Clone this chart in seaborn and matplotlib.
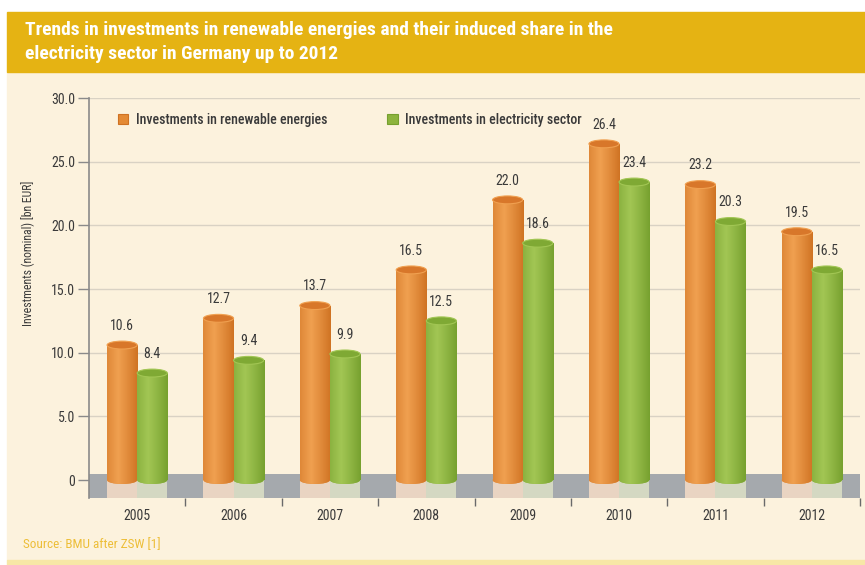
import numpy as np
import matplotlib
matplotlib.use("Agg")
import matplotlib.pyplot as plt
from matplotlib.patches import Rectangle, Ellipse, FancyBboxPatch
from matplotlib.colors import to_rgb
import pandas as pd
import seaborn as sns

# ---- data -------------------------------------------------------------
years = ["2005", "2006", "2007", "2008", "2009", "2010", "2011", "2012"]
renewables = [10.6, 12.7, 13.7, 16.5, 22.0, 26.4, 23.2, 19.5]
electricity = [8.4, 9.4, 9.9, 12.5, 18.6, 23.4, 20.3, 16.5]
series_names = ["Investments in renewable energies",
                "Investments in electricity sector"]
y_ticks = [0, 5, 10, 15, 20, 25, 30]
y_tick_labels = ["0", "5.0", "10.0", "15.0", "20.0", "25.0", "30.0"]

title_lines = ["Trends in investments in renewable energies and their induced share in the",
               "electricity sector in Germany up to 2012"]
y_label = "Investments (nominal) [bn EUR]"
source = "Source: BMU after ZSW [1]"

# ---- styling ----------------------------------------------------------
BANNER = "#E5B313"
CREAM = "#FCF2DD"
STRIPE = "#F7E7A6"
BAND = "#A5A9AD"
GRID = "#D9D2C4"
TEXT = "#3A3A3A"
ORANGE = "#E48A34"
GREEN = "#8DB43D"
shades = {
    ORANGE: dict(edge="#CF7222", hi="#F0A050", top="#D8772A", under="#E9D4C2"),
    GREEN: dict(edge="#76A02E", hi="#A2C654", top="#7FA934", under="#D4D8C2"),
}

sns.set_theme(style="white")
plt.rcParams["font.family"] = ["Liberation Sans Narrow", "Roboto Condensed",
                               "DejaVu Sans"]
plt.rcParams["font.stretch"] = "condensed"

W, H = 865, 565
fig = plt.figure(figsize=(W / 100, H / 100), dpi=100, facecolor="white")

# page background, title banner and footer stripe (behind the axes)
for (x, y, w, h, c) in [(7, 5, W - 7, 488, CREAM), (7, 493, W - 7, 60, BANNER),
                        (7, 0, W - 7, 5, STRIPE)]:
    fig.patches.append(Rectangle((x / W, y / H), w / W, h / H,
                                 transform=fig.transFigure, color=c, zorder=-5))
for line, ypix in zip(title_lines, [30, 54]):
    fig.text(25 / W, (H - ypix) / H, line, color="white", fontsize=14,
             fontweight="bold", va="center", ha="left")
fig.text(23 / W, (H - 545) / H, source, color="#EDBE38", fontsize=9.5,
         va="center", ha="left")

AX_L, AX_R, AX_T, AX_B = 89, 860, 98, 498
ax = fig.add_axes([AX_L / W, (H - AX_B) / H, (AX_R - AX_L) / W, (AX_B - AX_T) / H])
ax.set_facecolor("none")

df = pd.DataFrame({
    "year": years * 2,
    "value": renewables + electricity,
    "series": [series_names[0]] * len(years) + [series_names[1]] * len(years),
})
sns.barplot(data=df, x="year", y="value", hue="series", order=years,
            hue_order=series_names, palette=[ORANGE, GREEN], saturation=1,
            width=0.625, gap=0, legend=False, ax=ax, zorder=2, linewidth=0)

YMIN, YMAX = -1.41, 30
BAND_TOP = 0.45
CAP = 0.62  # height of the cylinder caps in data units


def gradient_fill(patch, x0, w, y0, y1, edge, hi, z):
    t = np.linspace(0, 1, 96)
    mix = np.clip(1 - np.abs(t - 0.36) / 0.64, 0, 1) ** 0.9
    e, h = np.array(to_rgb(edge)), np.array(to_rgb(hi))
    row = e[None, :] + (h - e)[None, :] * mix[:, None]
    im = ax.imshow(row[None, :, :], extent=[x0, x0 + w, y0, y1],
                   aspect="auto", zorder=z, interpolation="bilinear")
    im.set_clip_path(patch)


for container, color in zip(ax.containers, [ORANGE, GREEN]):
    sh = shades[color]
    for bar, val in zip(container.patches, container.datavalues):
        x0, w = bar.get_x(), bar.get_width()
        cx = x0 + w / 2
        h = bar.get_height()
        # lighter footprint of the cylinder on the floor band
        ax.add_patch(Rectangle((x0, YMIN), w, BAND_TOP - YMIN, color=sh["under"],
                               zorder=1.2, lw=0))
        # rounded bottom
        bottom = Ellipse((cx, 0), w, CAP, facecolor=color, lw=0, zorder=1.9)
        ax.add_patch(bottom)
        gradient_fill(bottom, x0, w, -CAP, CAP, sh["edge"], sh["hi"], 1.95)
        # cylinder body
        gradient_fill(bar, x0, w, 0, h, sh["edge"], sh["hi"], 2.1)
        # top cap
        ax.add_patch(Ellipse((cx, h), w, CAP, facecolor=sh["top"],
                             edgecolor=sh["hi"], lw=0.8, zorder=2.3))
        ax.text(cx, h + 0.95, f"{val:.1f}", ha="center", va="bottom",
                fontsize=10, color=TEXT, zorder=3)

# floor band below the bars
ax.axhspan(YMIN, BAND_TOP, color=BAND, zorder=1.1, lw=0)

ax.set_xlim(-0.5, len(years) - 0.5)
ax.set_ylim(YMIN, YMAX)

ax.set_yticks(y_ticks)
ax.set_yticklabels(y_tick_labels)
ax.yaxis.grid(True, color=GRID, lw=1)
ax.set_axisbelow(True)
ax.tick_params(axis="y", which="major", left=True, length=8, width=1,
               color="#8A8A8A", labelsize=10, labelcolor=TEXT, pad=2)

ax.set_xticks(range(len(years)))
ax.set_xticklabels(years)
ax.set_xticks(np.arange(0.5, len(years), 1.0), minor=True)
ax.tick_params(axis="x", which="major", length=0, labelsize=10,
               labelcolor=TEXT, pad=8)
ax.tick_params(axis="x", which="minor", bottom=True, length=6, width=1,
               color="#6A6A6A")

for side in ["top", "right", "bottom"]:
    ax.spines[side].set_visible(False)
ax.spines["left"].set_color("#8A8A8A")
ax.spines["left"].set_linewidth(1.2)

ax.set_xlabel("")
ax.set_ylabel(y_label, fontsize=8.5, color=TEXT)
ax.yaxis.set_label_coords(-(AX_L - 35) / (AX_R - AX_L), (AX_B - 253) / (AX_B - AX_T))

# legend with square swatches
handles = [FancyBboxPatch((0, 0), 1, 1, boxstyle="round,pad=0,rounding_size=0.2",
                          facecolor=c, edgecolor=shades[c]["edge"], lw=0.8)
           for c in (ORANGE, GREEN)]
leg = ax.legend(handles, series_names, loc="center left",
                bbox_to_anchor=((118 - AX_L) / (AX_R - AX_L), (AX_B - 120) / (AX_B - AX_T)),
                ncol=2, frameon=False, borderpad=0, borderaxespad=0,
                handlelength=0.75, handleheight=0.75, handletextpad=0.55,
                columnspacing=4.3, prop=dict(size=10, weight="medium"))
for t in leg.get_texts():
    t.set_color(TEXT)

fig.savefig("out.png", dpi=100, facecolor="white")
